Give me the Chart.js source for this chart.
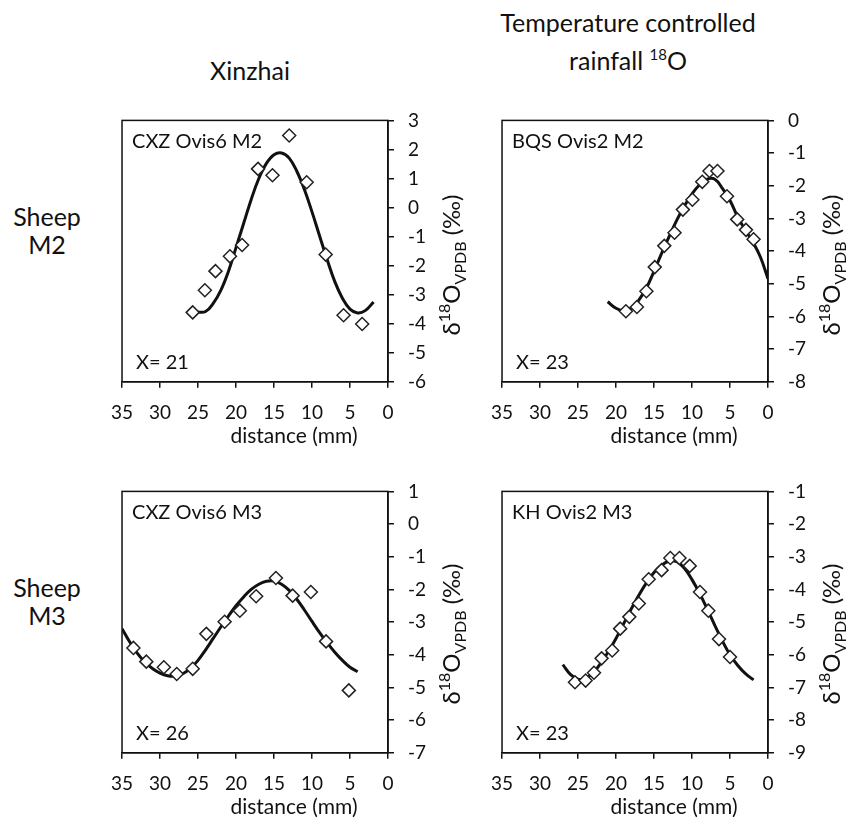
<!DOCTYPE html>
<html>
<head>
<meta charset="utf-8">
<script src="https://cdn.jsdelivr.net/npm/chart.js@4.4.1/dist/chart.umd.min.js"></script>
<style>
body{margin:0;background:#fff;font-family:Lato,"Open Sans",sans-serif;color:#111;}
#wrap{position:relative;width:850px;height:824px;overflow:hidden;}
canvas{position:absolute;}
.lbl{position:absolute;transform:translate(-50%,-50%);white-space:nowrap;text-align:center;font-size:25px;line-height:28px;}
.lbl sup{font-size:15px;vertical-align:10px;line-height:0;}
.ytitle{position:absolute;transform:translate(-50%,-50%) rotate(-90deg);white-space:nowrap;font-size:24px;line-height:26px;}
.ytitle sup{font-size:16px;vertical-align:10px;line-height:0;}
.ytitle sub{font-size:16px;vertical-align:-6px;line-height:0;}
</style>
</head>
<body>
<div id="wrap">
 <div class="lbl" style="left:250px;top:70px">Xinzhai</div>
 <div class="lbl" style="left:628px;top:22px">Temperature controlled</div>
 <div class="lbl" style="left:628px;top:60px">rainfall <sup>18</sup>O</div>
 <div class="lbl" style="left:47px;top:230px">Sheep<br>M2</div>
 <div class="lbl" style="left:47px;top:601px">Sheep<br>M3</div>

 <canvas id="c1" width="382" height="356" style="left:97px;top:95px"></canvas>
 <canvas id="c2" width="382" height="356" style="left:477px;top:95px"></canvas>
 <canvas id="c3" width="382" height="356" style="left:97px;top:466px"></canvas>
 <canvas id="c4" width="382" height="356" style="left:477px;top:466px"></canvas>

 <div class="ytitle" style="left:451px;top:265px">δ<sup>18</sup>O<sub>VPDB</sub> (‰)</div>
 <div class="ytitle" style="left:831px;top:265px">δ<sup>18</sup>O<sub>VPDB</sub> (‰)</div>
 <div class="ytitle" style="left:451px;top:634px">δ<sup>18</sup>O<sub>VPDB</sub> (‰)</div>
 <div class="ytitle" style="left:831px;top:634px">δ<sup>18</sup>O<sub>VPDB</sub> (‰)</div>
</div>
<script>
// CXZ Ovis6 M2 (Xinzhai, M2)
const cxzM2Dist=[25.7,24.1,22.7,20.8,19.2,17.1,15.2,13.0,10.7,8.2,5.85,3.4];
const cxzM2Val=[-3.61,-2.85,-2.19,-1.68,-1.29,1.33,1.11,2.48,0.87,-1.62,-3.71,-4.01];
const cxzM2FitDist=[25.2,24,23,22,21,20,19,18,17,16,15,14,13,12,11,10,9,8,7,6,5,4,3,1.9];
const cxzM2FitVal=[-3.6,-3.58,-3.3,-2.85,-2.2,-1.38,-0.55,0.28,1.0,1.52,1.82,1.88,1.7,1.25,0.62,-0.15,-0.98,-1.8,-2.55,-3.12,-3.5,-3.63,-3.55,-3.25];

// BQS Ovis2 M2
const bqsM2Dist=[18.7,17.25,16.0,14.9,13.65,12.3,11.2,9.95,8.65,7.7,6.65,5.4,4.05,2.9,1.9];
const bqsM2Val=[-5.84,-5.71,-5.23,-4.49,-3.84,-3.44,-2.73,-2.43,-1.88,-1.55,-1.55,-2.32,-3.03,-3.35,-3.64];
const bqsM2FitDist=[21.1,20,19,18,17,16,15,14,13,12,11,10,9,8,7,6,5,4,3,2,1,0];
const bqsM2FitVal=[-5.55,-5.75,-5.83,-5.75,-5.5,-5.13,-4.62,-4.07,-3.55,-3.05,-2.62,-2.25,-1.97,-1.8,-1.8,-2.08,-2.45,-2.95,-3.35,-3.72,-4.18,-4.85];

// CXZ Ovis6 M3
const cxzM3Dist=[33.5,31.8,29.5,27.8,25.7,23.9,21.5,19.5,17.35,14.75,12.55,10.15,8.15,5.15];
const cxzM3Val=[-3.79,-4.21,-4.38,-4.59,-4.43,-3.36,-2.99,-2.65,-2.21,-1.65,-2.19,-2.08,-3.59,-5.09];
const cxzM3FitDist=[35,34,33,32,31,30,29,28,27,26,25,24,23,22,21,20,19,18,17,16,15,14,13,12,11,10,9,8,7,6,5,4];
const cxzM3FitVal=[-3.2,-3.6,-3.95,-4.22,-4.42,-4.56,-4.64,-4.65,-4.58,-4.42,-4.17,-3.85,-3.5,-3.15,-2.82,-2.5,-2.23,-2.0,-1.84,-1.75,-1.74,-1.84,-2.03,-2.3,-2.63,-2.98,-3.32,-3.63,-3.92,-4.17,-4.38,-4.52];

// KH Ovis2 M3
const khM3Dist=[25.4,24.0,22.9,21.9,20.5,19.45,18.25,17.0,15.7,14.0,12.85,11.65,10.3,8.95,7.85,6.45,5.0];
const khM3Val=[-6.84,-6.79,-6.55,-6.11,-5.87,-5.2,-4.84,-4.43,-3.69,-3.41,-3.04,-3.04,-3.28,-4.08,-4.65,-5.52,-6.07];
const khM3FitDist=[27,26,25,24,23,22,21,20,19,18,17,16,15,14,13,12,11,10,9,8,7,6,5,4,3,1.9];
const khM3FitVal=[-6.3,-6.6,-6.75,-6.72,-6.55,-6.25,-5.9,-5.5,-5.05,-4.6,-4.18,-3.8,-3.48,-3.26,-3.13,-3.15,-3.35,-3.7,-4.12,-4.6,-5.1,-5.58,-6.0,-6.32,-6.57,-6.77];

const distRange=[0,35];
const distStep=5;
const xTitle='distance (mm)';

Chart.defaults.font.family='Lato';
Chart.defaults.color='#111';

const frame={
 id:'frame',
 afterDraw(chart,args,opts){
  const {ctx,chartArea:a}=chart;
  ctx.save();
  ctx.strokeStyle='#111';
  ctx.lineWidth=1.5;
  ctx.strokeRect(a.left,a.top,a.right-a.left,a.bottom-a.top);
  ctx.fillStyle='#111';
  ctx.font='20px Lato';
  ctx.textBaseline='alphabetic';
  ctx.fillText(opts.name,a.left+10,a.top+28);
  ctx.fillText(opts.count,a.left+14,a.bottom-13);
  ctx.restore();
 }
};

function pts(xs,ys){
 return xs.map((x,i)=>({x:x,y:ys[i]}));
}

function makePanel(id,name,count,dist,val,fitDist,fitVal,yMin,yMax){
 const ctx=document.getElementById(id).getContext('2d');
 return new Chart(ctx,{
  type:'scatter',
  data:{
   datasets:[{
    data:pts(dist,val),
    pointStyle:'rectRot',
    pointRadius:6.5,
    pointBackgroundColor:'#fff',
    pointBorderColor:'#222',
    pointBorderWidth:1.5,
    showLine:false
   },{
    data:pts(fitDist,fitVal),
    showLine:true,
    borderColor:'#111',
    borderWidth:3,
    pointRadius:0,
    tension:0.4
   }]
  },
  options:{
   responsive:false,
   animation:false,
   devicePixelRatio:1,
   layout:{padding:{left:12,top:13,right:0,bottom:0}},
   plugins:{
    legend:{display:false},
    tooltip:{enabled:false},
    title:{display:true,text:xTitle,position:'bottom',color:'#111',
     font:{size:21,weight:'normal',lineHeight:1.2},padding:{top:0,bottom:2}},
    frame:{name:name,count:count}
   },
   scales:{
    x:{
     type:'linear',reverse:true,min:distRange[0],max:distRange[1],
     afterFit(s){s.height=42;},
     grid:{drawOnChartArea:false,drawTicks:true,tickLength:6,color:'#111',lineWidth:1.5},
     border:{color:'#111',width:1.5},
     ticks:{stepSize:distStep,color:'#111',font:{size:19},padding:14,maxRotation:0,autoSkip:false}
    },
    y:{
     position:'right',min:yMin,max:yMax,
     afterFit(s){s.width=91;},
     grid:{drawOnChartArea:false,drawTicks:true,tickLength:6,color:'#111',lineWidth:1.5},
     border:{color:'#111',width:1.5},
     ticks:{stepSize:1,color:'#111',font:{size:19},padding:14,autoSkip:false}
    }
   }
  },
  plugins:[frame]
 });
}

makePanel('c1','CXZ Ovis6 M2','X= 21',cxzM2Dist,cxzM2Val,cxzM2FitDist,cxzM2FitVal,-6,3);
makePanel('c2','BQS Ovis2 M2','X= 23',bqsM2Dist,bqsM2Val,bqsM2FitDist,bqsM2FitVal,-8,0);
makePanel('c3','CXZ Ovis6 M3','X= 26',cxzM3Dist,cxzM3Val,cxzM3FitDist,cxzM3FitVal,-7,1);
makePanel('c4','KH Ovis2 M3','X= 23',khM3Dist,khM3Val,khM3FitDist,khM3FitVal,-9,-1);
</script>
</body>
</html>
